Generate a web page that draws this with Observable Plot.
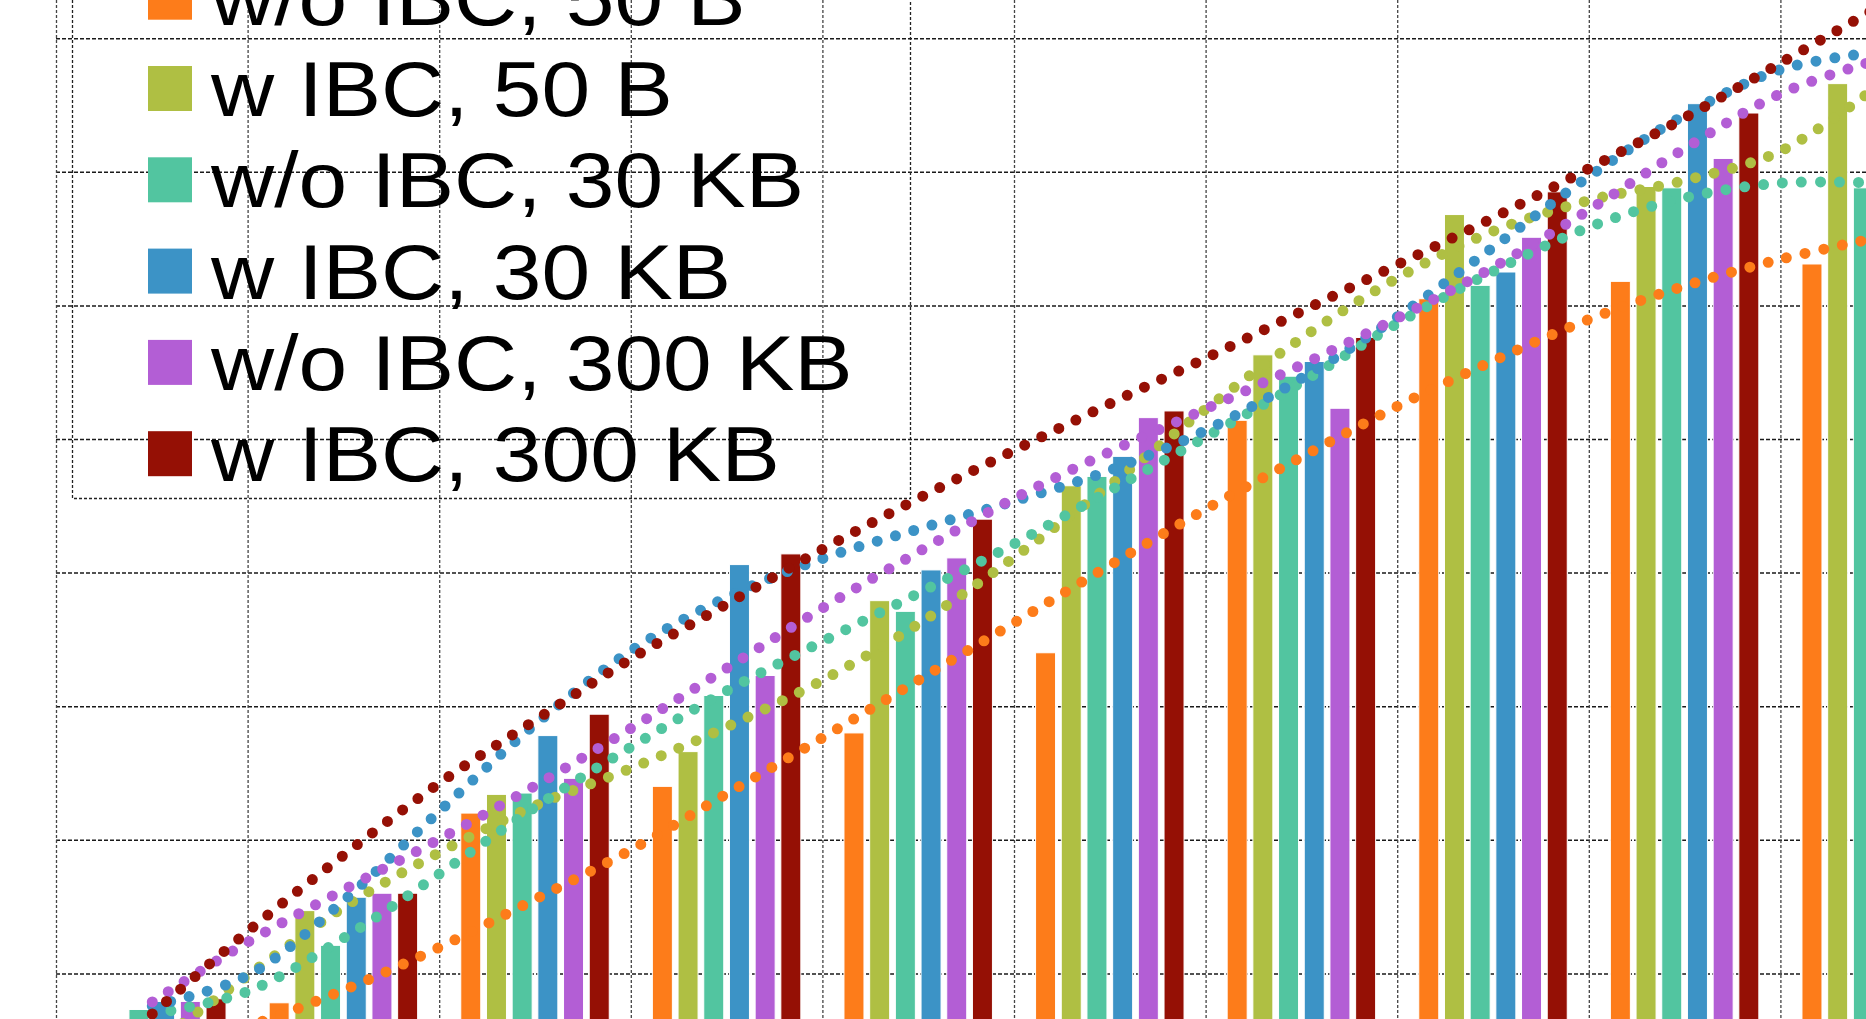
<!DOCTYPE html>
<html>
<head>
<meta charset="utf-8">
<script src="https://cdn.jsdelivr.net/npm/d3@7"></script>
<script src="https://cdn.jsdelivr.net/npm/@observablehq/plot@0.6"></script>
<style>
html, body { margin: 0; padding: 0; background: #fff; overflow: hidden; }
#wrap { position: relative; width: 1866px; height: 1019px; overflow: hidden; background: #fff; }
#wrap svg { display: block; overflow: hidden; }
#legend { position: absolute; left: 0; top: 0; pointer-events: none; }
</style>
</head>
<body>
<div id="wrap"></div>
<script>
// ---- data (y in gridline units, x = group number) ----
const categories = [1, 2, 3, 4, 5, 6, 7, 8, 9, 10];
const seriesNames = ["w/o IBC, 50 B", "w IBC, 50 B", "w/o IBC, 30 KB", "w IBC, 30 KB", "w/o IBC, 300 KB", "w IBC, 300 KB"];
const seriesColors = ["#FD7C1A", "#AFBF43", "#52C5A0", "#3C93C6", "#B35ED5", "#951005"];

const woIbc50B   = [0.35, 0.78, 2.20, 2.40, 2.80, 3.40, 5.14, 6.05, 6.18, 6.31];
const wIbc50B    = [0.50, 1.47, 2.34, 2.66, 3.79, 4.65, 5.63, 6.68, 6.89, 7.66];
const woIbc30KB  = [0.73, 1.21, 2.35, 3.08, 3.71, 4.72, 5.47, 6.15, 6.88, 6.88];
const wIbc30KB   = [0.79, 1.57, 2.78, 4.06, 4.02, 4.87, 5.58, 6.25, 7.51, null];
const woIbc300KB = [0.79, 1.60, 2.46, 3.23, 4.11, 5.16, 5.23, 6.51, 7.10, null];
const wIbc300KB  = [0.81, 1.60, 2.94, 4.14, 4.40, 5.21, 5.76, 6.85, 7.44, null];

// trendlines (dotted), sampled at these positions along the category axis
const trendX = [1, 1.5, 2, 2.5, 3, 3.5, 4, 4.5, 5, 5.5, 6, 6.5, 7, 7.5, 8, 8.5, 9, 9.5, 10];
const trendWoIbc50B   = [0.43, 0.61, 0.88, 1.20, 1.56, 1.93, 2.35, 2.77, 3.20, 3.63, 4.06, 4.48, 4.87, 5.25, 5.59, 5.90, 6.15, 6.35, 6.51];
const trendWIbc50B    = [0.46, 0.99, 1.50, 1.91, 2.26, 2.54, 2.85, 3.20, 3.62, 4.12, 4.66, 5.23, 5.76, 6.21, 6.56, 6.79, 6.94, 7.16, 7.64];
const trendWoIbc30KB  = [0.70, 0.87, 1.27, 1.75, 2.25, 2.70, 3.12, 3.49, 3.85, 4.22, 4.62, 5.02, 5.43, 5.87, 6.26, 6.59, 6.81, 6.92, 6.92];
const trendWIbc30KB   = [0.76, 0.99, 1.55, 2.22, 2.87, 3.42, 3.82, 4.11, 4.33, 4.54, 4.77, 5.07, 5.46, 5.92, 6.44, 6.97, 7.43, 7.77, 7.90];
const trendWoIbc300KB = [0.79, 1.24, 1.63, 2.01, 2.41, 2.84, 3.29, 3.74, 4.16, 4.56, 4.91, 5.23, 5.56, 5.91, 6.29, 6.72, 7.18, 7.59, 7.84];
const trendWIbc300KB  = [0.70, 1.32, 1.89, 2.43, 2.90, 3.36, 3.77, 4.18, 4.56, 4.92, 5.27, 5.61, 5.96, 6.31, 6.66, 7.03, 7.41, 7.82, 8.23];

const gridY = [1, 2, 3, 4, 5, 6, 7, 8];
const gridX = [0.5, 1.5, 2.5, 3.5, 4.5, 5.5, 6.5, 7.5, 8.5, 9.5];

// ---- build tables ----
const seriesValues = [woIbc50B, wIbc50B, woIbc30KB, wIbc30KB, woIbc300KB, wIbc300KB];
const seriesTrends = [trendWoIbc50B, trendWIbc50B, trendWoIbc30KB, trendWIbc30KB, trendWoIbc300KB, trendWIbc300KB];
const barStep = 0.1341, barWidth = 0.1044;

const bars = [];
seriesValues.forEach((vals, j) => {
  vals.forEach((v, i) => {
    if (v == null) return;
    bars.push({category: categories[i], series: seriesNames[j], value: v, pos: categories[i] + (j - 2.5) * barStep});
  });
});
const trends = [];
seriesTrends.forEach((vals, j) => {
  vals.forEach((v, i) => trends.push({series: seriesNames[j], x: trendX[i], y: v}));
});

const W = 1866, H = 1019;
const chart = Plot.plot({
  width: W, height: H,
  marginLeft: 56, marginRight: 0, marginTop: 0, marginBottom: 0,
  x: {type: "linear", domain: [0.5, 0.5 + (W - 56) / 191.6], axis: null},
  y: {type: "linear", domain: [(1107 - H) / 133.6, 1107 / 133.6], axis: null},
  color: {domain: seriesNames, range: seriesColors},
  style: {background: "#fff"},
  marks: [
    Plot.ruleY(gridY, {stroke: "#1a1a1a", strokeWidth: 1.5, strokeDasharray: "4,2"}),
    Plot.ruleX(gridX, {stroke: "#444", strokeWidth: 1.3, strokeDasharray: "3,2"}),
    Plot.rect(bars, {
      x1: d => d.pos - barWidth / 2, x2: d => d.pos + barWidth / 2,
      y1: d => 0, y2: "value",
      fill: "series", stroke: "white", strokeWidth: 1, clip: true
    }),
    Plot.line(trends, {
      x: "x", y: "y", z: "series", stroke: "series",
      strokeWidth: 11, strokeDasharray: "0,19", strokeLinecap: "round",
      curve: "catmull-rom", clip: true
    })
  ]
});
document.getElementById("wrap").appendChild(chart);

// ---- legend (inside the plot, top-left, cut by the top edge) ----
const leg = d3.select("#wrap").append("svg")
  .attr("id", "legend").attr("width", W).attr("height", H);
leg.append("rect")
  .attr("x", 72.5).attr("y", -400).attr("width", 838).attr("height", 898.5)
  .attr("fill", "none").attr("stroke", "#222").attr("stroke-width", 1.3).attr("stroke-dasharray", "3,2");
seriesNames.forEach((name, k) => {
  const rowC = 88.5 + 91.3 * (k - 1);
  const base = 116 + 91.3 * (k - 1);
  leg.append("rect")
    .attr("x", 148).attr("y", rowC - 22.5).attr("width", 44).attr("height", 45)
    .attr("fill", seriesColors[k]);
  leg.append("text")
    .attr("transform", `translate(211,${base}) scale(1.136,1)`)
    .attr("font-family", "'Liberation Sans', Arial, Helvetica, sans-serif")
    .attr("font-size", 77)
    .attr("fill", "#000")
    .text(name);
});
</script>
</body>
</html>
